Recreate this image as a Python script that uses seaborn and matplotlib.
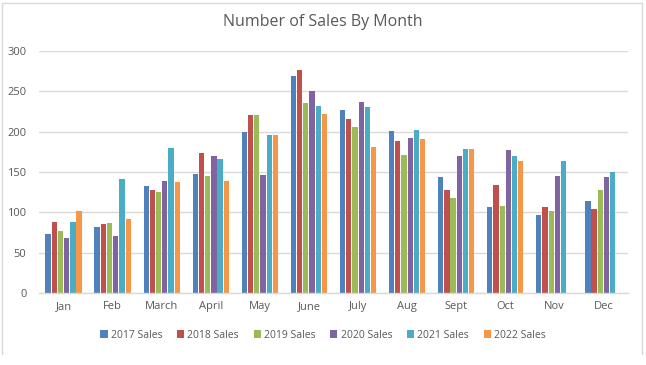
import matplotlib
matplotlib.use("Agg")
import matplotlib.pyplot as plt
import seaborn as sns
import pandas as pd
import numpy as np
from matplotlib.lines import Line2D
from matplotlib.patches import Patch

months = ["Jan", "Feb", "March", "April", "May", "June", "July", "Aug", "Sept", "Oct", "Nov", "Dec"]
series = ["2017 Sales", "2018 Sales", "2019 Sales", "2020 Sales", "2021 Sales", "2022 Sales"]
sales_2017 = [73, 82, 133, 148, 200, 269, 227, 201, 144, 107, 97, 114]
sales_2018 = [88, 85, 128, 174, 221, 277, 216, 189, 128, 134, 107, 104]
sales_2019 = [77, 87, 125, 145, 221, 236, 206, 171, 118, 108, 102, 128]
sales_2020 = [68, 71, 139, 170, 146, 251, 237, 192, 170, 177, 145, 144]
sales_2021 = [88, 141, 180, 166, 196, 232, 230, 202, 179, 170, 164, 150]
sales_2022 = [102, 92, 138, 139, 196, 222, 181, 191, 178, 164, None, None]
colors = ["#4F81BD", "#C0504D", "#9BBB59", "#8064A2", "#4BACC6", "#F79646"]
yticks = [0, 50, 100, 150, 200, 250, 300]

rows = []
for name, vals in zip(series, [sales_2017, sales_2018, sales_2019, sales_2020, sales_2021, sales_2022]):
    for m, v in zip(months, vals):
        if v is not None:
            rows.append({"Month": m, "Series": name, "Sales": v})
df = pd.DataFrame(rows)

sns.set_theme(style="white")
plt.rcParams["font.family"] = ["Open Sans", "DejaVu Sans"]

fig = plt.figure(figsize=(6.46, 3.65), dpi=100)
W, H = 646, 365
ax = fig.add_axes([39 / W, 1 - 293 / H, (628 - 39) / W, (293 - 51) / H])

sns.barplot(data=df, x="Month", y="Sales", hue="Series", order=months, hue_order=series,
            palette=colors, width=0.76, gap=0.15, ax=ax, legend=False, saturation=1,
            linewidth=0)

ax.set_ylim(0, 300)
ax.set_xlim(-0.5, 11.5)
ax.set_yticks(yticks)
ax.yaxis.grid(True, color="#d9d9d9", linewidth=1)
ax.set_axisbelow(True)
for s in ["top", "right", "left"]:
    ax.spines[s].set_visible(False)
ax.spines["bottom"].set_color("#d9d9d9")
ax.spines["bottom"].set_linewidth(1)
ax.set_xlabel("")
ax.set_ylabel("")
ax.tick_params(axis="both", length=0, labelsize=8, colors="#595959", pad=6)
ax.tick_params(axis="y", pad=9)

fig.text(0.5, 1 - 22 / H, "Number of Sales By Month", ha="center", va="center",
         fontsize=11.5, color="#595959")

handles = [Patch(facecolor=c, edgecolor="none") for c in colors]
fig.legend(handles, series, loc="center", bbox_to_anchor=(0.5, 1 - 335 / H), ncol=6,
           frameon=False, fontsize=7.5, handlelength=0.7, handleheight=0.7,
           handletextpad=0.3, columnspacing=1.4, labelcolor="#595959")

# chart border (left, top, right)
fig.add_artist(Line2D([1.5 / W, 1.5 / W, 642 / W, 642 / W],
                      [1 - 354 / H, 1 - 3 / H, 1 - 3 / H, 1 - 354 / H],
                      transform=fig.transFigure, color="#d9d9d9", linewidth=1))

fig.savefig("out.png", dpi=100, facecolor="white")
